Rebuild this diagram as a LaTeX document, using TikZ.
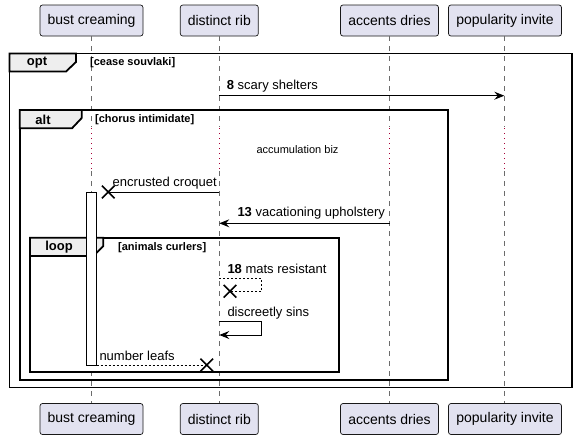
\documentclass[tikz,border=0pt]{standalone}
\usepackage{fontspec}
\setmainfont{Liberation Sans}
\usetikzlibrary{arrows.meta,shapes.misc}
\definecolor{partfill}{HTML}{E2E2F0}
\definecolor{partline}{HTML}{181818}
\definecolor{tabfill}{HTML}{EEEEEE}
\definecolor{delayred}{HTML}{A80036}
\begin{document}
\begin{tikzpicture}[x=1pt,y=-1pt,
  part/.style={draw=partline, fill=partfill, rounded corners=2.5pt, line width=0.7pt, inner sep=0pt, font=\fontsize{14}{16}\selectfont, minimum height=31pt},
  lifeline/.style={draw=gray!85!black, dash pattern=on 5pt off 5pt, line width=0.7pt},
  delayline/.style={draw=delayred, dash pattern=on 1pt off 4pt, line width=1pt},
  framebox/.style={draw=black, line width=1.8pt},
  tabshape/.style={fill=tabfill, draw=black, line width=1.8pt},
  tabtxt/.style={font=\bfseries\fontsize{13}{15}\selectfont, inner sep=0pt},
  condtxt/.style={font=\bfseries\fontsize{11}{13}\selectfont, inner sep=0pt, anchor=west},
  msg/.style={draw=black, line width=1pt},
  arr/.style={-{Stealth[length=10pt,width=8pt,inset=3.5pt]}},
  msgdash/.style={dash pattern=on 2pt off 2pt},
  lbl/.style={font=\fontsize{13}{15}\selectfont, inner sep=0pt, anchor=west},
  xmark/.style={draw=black, cross out, line width=1.6pt, minimum size=11pt, inner sep=0pt},
  actbar/.style={draw=black, fill=white, line width=0.8pt}
]
\useasboundingbox (0,0) rectangle (576,440);
\fill[white] (0,0) rectangle (576,440);

% participants
\node[part, minimum width=103pt] (p1t) at (91.5,20.5) {bust creaming};
\node[part, minimum width=78pt]  (p2t) at (219.3,20.5) {distinct rib};
\node[part, minimum width=98pt]  (p3t) at (389.5,20.5) {accents dries};
\node[part, minimum width=113pt] (p4t) at (505,20.5) {popularity invite};
\node[part, minimum width=103pt] (p1b) at (91.5,419) {bust creaming};
\node[part, minimum width=78pt]  (p2b) at (219.3,419) {distinct rib};
\node[part, minimum width=98pt]  (p3b) at (389.5,419) {accents dries};
\node[part, minimum width=113pt] (p4b) at (505,419) {popularity invite};

% lifeline x positions
\coordinate (l1) at (91.5,0);
\coordinate (l2) at (219.3,0);
\coordinate (l3) at (389.5,0);
\coordinate (l4) at (504.3,0);

% lifelines with delay section
\foreach \t/\b/\l in {p1t/p1b/l1, p2t/p2b/l2, p3t/p3b/l3, p4t/p4b/l4}{
  \draw[lifeline] (\l |- \t.south) -- (\l |- 0,127);
  \draw[delayline] (\l |- 0,128) -- (\l |- 0,170);
  \draw[lifeline] (\l |- 0,171) -- (\l |- \b.north);
}

% opt frame
\draw[framebox] (9.5,53.5) rectangle (572,387.5);
\draw[tabshape] (9.5,53.5) -- (76,53.5) -- (76,62) -- (66,71.5) -- (9.5,71.5) -- cycle;
\node[tabtxt] (optlbl) at (37,63) {opt};
\node[condtxt] (optcond) at (90,63) {[cease souvlaki]};

% alt frame
\draw[framebox] (19.8,110) rectangle (448,380);
\draw[tabshape] (19.8,110) -- (81.7,110) -- (81.7,118) -- (72,128.3) -- (19.8,128.3) -- cycle;
\node[tabtxt] (altlbl) at (43,119.5) {alt};
\node[condtxt] (altcond) at (95,119.5) {[chorus intimidate]};

% loop frame
\draw[framebox] (30,237.7) rectangle (339.3,372.3);
\draw[tabshape] (30,237.7) -- (103.3,237.7) -- (103.3,246) -- (93.5,256) -- (30,256) -- cycle;
\node[tabtxt] (looplbl) at (59,247.5) {loop};
\node[condtxt] (loopcond) at (118,247.5) {[animals curlers]};

% activation bar
\draw[actbar] (86.3,192) rectangle (96.7,365);

% delay text
\node[font=\fontsize{11}{13}\selectfont, inner sep=0pt] (delay) at (297.5,150) {accumulation biz};

% message 8
\coordinate (m8s) at (l2 |- 0,95.7);
\coordinate (m8e) at (l4 |- 0,95.7);
\draw[msg, arr] (m8s) -- (m8e);
\node[lbl] (m8l) at (226.7,86) {\textbf{8} scary shelters};

% encrusted croquet
\coordinate (m9s) at (l2 |- 0,192);
\node[xmark] (x9) at (108.3,192) {};
\draw[msg] (m9s) -- (x9.center);
\node[lbl, anchor=east] (m9l) at (217,183) {encrusted croquet};

% message 13
\coordinate (m13s) at (l3 |- 0,223.3);
\coordinate (m13e) at (l2 |- 0,223.3);
\draw[msg, arr] (m13s) -- (m13e);
\node[lbl] (m13l) at (237.3,212.7) {\textbf{13} vacationing upholstery};

% message 18 self, dashed, lost
\coordinate (m18s) at (l2 |- 0,278.3);
\node[xmark] (x18) at (230,291.3) {};
\draw[msg, msgdash] (m18s) -- (261.7,278.3) -- (261.7,291.3) -- (x18.center);
\node[lbl] (m18l) at (227.3,269) {\textbf{18} mats resistant};

% discreetly sins self
\coordinate (m19s) at (l2 |- 0,321.7);
\coordinate (m19e) at (l2 |- 0,335);
\draw[msg, arr] (m19s) -- (261.7,321.7) -- (261.7,335) -- (m19e);
\node[lbl] (m19l) at (227.3,313) {discreetly sins};

% number leafs
\coordinate (m20s) at (96.7,365);
\node[xmark] (x20) at (206.7,365) {};
\draw[msg, msgdash] (m20s) -- (x20.center);
\node[lbl] (m20l) at (99.3,356) {number leafs};
\end{tikzpicture}
\end{document}
